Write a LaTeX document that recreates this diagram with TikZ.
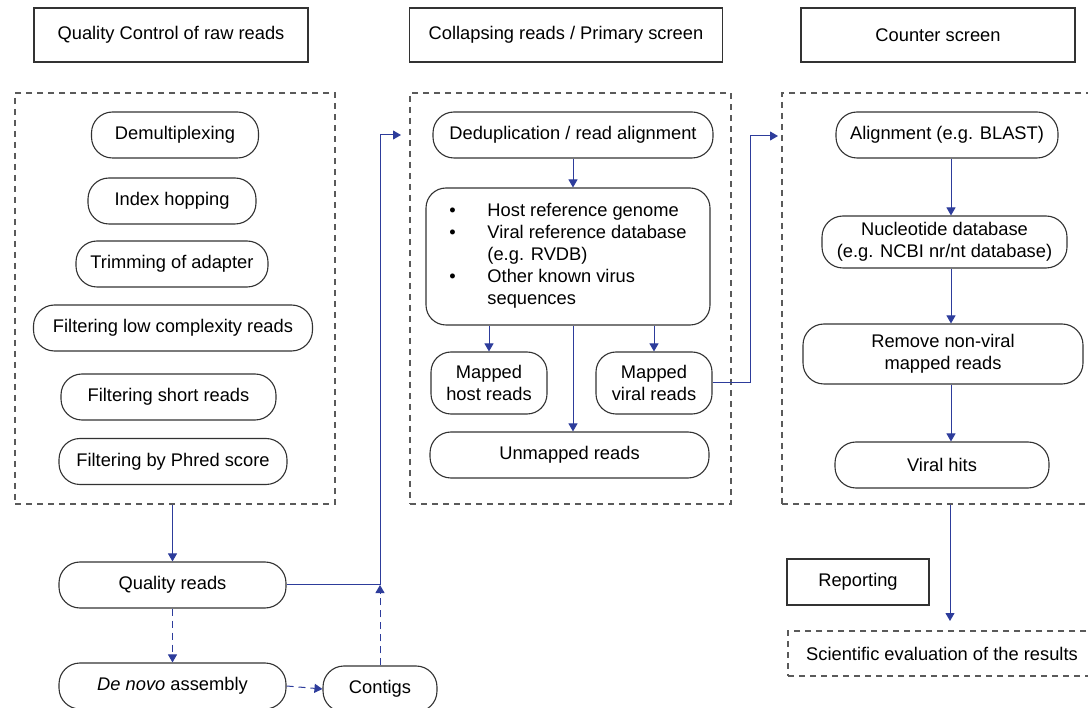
\documentclass[tikz,border=0pt]{standalone}
\usepackage{fontspec}
\setmainfont{Liberation Sans}
\usetikzlibrary{arrows.meta}
\definecolor{flowblue}{RGB}{45,60,155}
\definecolor{edgegrey}{RGB}{50,50,50}
\definecolor{dashgrey}{RGB}{90,90,90}
\tikzset{
	pill/.style={draw=edgegrey, line width=1.1pt, rounded corners=21pt, minimum height=46pt, inner sep=2pt},
	title/.style={draw=edgegrey, line width=1.1pt, minimum height=54pt},
	group/.style={draw=dashgrey, line width=1.1pt, dash pattern=on 6pt off 5pt},
	flow/.style={draw=flowblue, line width=1pt, -{Triangle[width=9pt,length=8pt]}},
	flowdash/.style={flow, dash pattern=on 7pt off 5pt}
}
\begin{document}
\begin{tikzpicture}[x=1pt,y=-1pt,font=\fontsize{18.3}{22}\selectfont]
		\useasboundingbox (0,0) rectangle (1088,708);
		
		% titols
		\node[title, minimum width=274pt] (qctitle) at (171,35) {Quality Control of raw reads};
		\node[title, minimum width=313pt] (cotitle) at (566,35) {Collapsing reads / Primary screen};
		\node[title, minimum width=274pt] (cstitle) at (938,35) {Counter screen};
		
		% grups
		\node[group, minimum width=320pt, minimum height=411pt] (qcgroup) at (175,298.5) {};
		\node[group, minimum width=321pt, minimum height=411pt] (cogroup) at (570.5,298.5) {};
		\node[group, minimum width=318pt, minimum height=411pt] (csgroup) at (941,298.5) {};
		
		% control de qualitat
		\foreach \nm/\x/\y/\w/\txt in {demux/175/135/167/Demultiplexing,
			hopping/172/201/168/Index hopping,
			trimming/172/264/192/Trimming of adapter,
			lowcompl/173/328/279/Filtering low complexity reads,
			shortreads/168.5/397/215/Filtering short reads,
			phred/173/461.5/228/Filtering by Phred score}
		\node[pill, minimum width=\w pt] (\nm) at (\x,\y) {\txt};
		
		\node[pill, minimum width=227pt] (quality) at (172.5,585) {Quality reads};
		\node[pill, minimum width=227pt] (denovo) at (172.5,686) {\textit{De novo} assembly};
		\node[pill, minimum width=114pt] (contigs) at (380,689) {Contigs};
		
		% primary screen
		\node[pill, minimum width=280pt] (dedup) at (573,135) {Deduplication / read alignment};
		\node[pill, rounded corners=20pt, minimum width=284pt, minimum height=137pt] (refs) at (568,256.5) {%
			\begin{tabular}{@{}p{38pt}@{}l@{}}
				\textbullet & Host reference genome\\
				\textbullet & Viral reference database\\
				& (e.g. RVDB)\\
				\textbullet & Other known virus\\
				& sequences
		\end{tabular}};
		\node[pill, rounded corners=20pt, minimum width=116pt, minimum height=62pt, align=center] (hostreads) at (489,383) {Mapped\\host reads};
		\node[pill, rounded corners=20pt, minimum width=116pt, minimum height=62pt, align=center] (viralreads) at (654,383) {Mapped\\viral reads};
		\node[pill, minimum width=279pt] (unmapped) at (569.5,455) {Unmapped reads};
		
		% counter screen
		\node[pill, minimum width=222pt] (blast) at (947,135) {Alignment (e.g. BLAST)};
		\node[pill, minimum width=245pt, minimum height=52pt, align=center] (nucleo) at (944.5,242) {Nucleotide database\\(e.g. NCBI nr/nt database)};
		\node[pill, minimum width=280pt, minimum height=60pt, align=center] (nonviral) at (943,354) {Remove non-viral\\mapped reads};
		\node[pill, minimum width=214pt] (hits) at (942,465) {Viral hits};
		
		\node[draw=edgegrey, line width=1.1pt, minimum width=142pt, minimum height=46pt] (reporting) at (858,582) {Reporting};
		\node[group, minimum width=308pt, minimum height=45pt] (evaluation) at (942,653.5) {Scientific evaluation of the results};
		
		% connexions
		\coordinate (joint) at (380,585);
		\coordinate (cobend) at (380,135);
		\coordinate (coin) at (401,135);
		\coordinate (csbend) at (750,136);
		\coordinate (csin) at (778,136);
		\coordinate (cslane) at (951,0);
		\coordinate (evaltop) at (950,621);
		
		\draw[flow] (quality.north |- qcgroup.south) -- (quality.north);
		\draw[flowdash] (quality.south) -- (denovo.north);
		\draw[flowdash] (denovo.east) -- (contigs.west);
		\draw[flowdash] (contigs.north) -- (joint);
		\draw[flow] (quality.east) -- (joint) -- (cobend) -- (coin);
		
		\draw[flow] (dedup.south) -- (dedup.south |- refs.north);
		\draw[flow] (refs.south -| hostreads.north) -- (hostreads.north);
		\draw[flow] (refs.south -| viralreads.north) -- (viralreads.north);
		\draw[flow] (dedup.south |- refs.south) -- (dedup.south |- unmapped.north);
		\draw[flow] (viralreads.east) -| (csbend) -- (csin);
		
		\draw[flow] (blast.south -| cslane) -- (nucleo.north -| cslane);
		\draw[flow] (nucleo.south -| cslane) -- (nonviral.north -| cslane);
		\draw[flow] (nonviral.south -| cslane) -- (hits.north -| cslane);
		\draw[flow] (csgroup.south -| evaltop) -- (evaltop);
	\end{tikzpicture}
\end{document}
